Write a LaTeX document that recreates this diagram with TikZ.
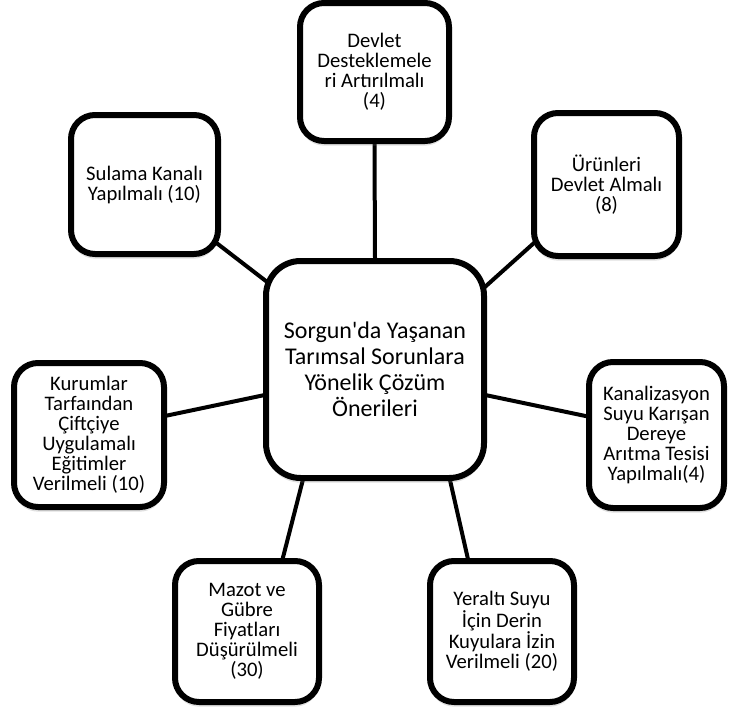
\documentclass[tikz,border=0pt]{standalone}
\usepackage{fontspec}
\setmainfont{Carlito}
\usetikzlibrary{positioning,backgrounds,shadows}

\begin{document}
\begin{tikzpicture}[
   x=0.75pt, y=-0.75pt,
   leaf/.style={draw, line width=4.5pt, rounded corners=18pt, fill=white, align=center,
      font=\fontsize{15.5}{15}\selectfont, inner sep=1pt,
      minimum width=108pt, minimum height=105.75pt,
      drop shadow={opacity=0.25, shadow xshift=0pt, shadow yshift=-3.5pt}},
   hub/.style={leaf, rounded corners=26pt, font=\fontsize{18}{19.5}\selectfont,
      minimum width=163.5pt, minimum height=162.75pt},
   link/.style={line width=3pt, shorten <=-10pt, shorten >=-10pt}
]
\useasboundingbox (0,0) rectangle (729,718);

\node[hub] (hub) at (375,369.5) {Sorgun\textquotesingle da Yaşanan\\Tarımsal Sorunlara\\Yönelik Çözüm\\Önerileri};
\node[leaf, minimum width=111.75pt, minimum height=103.5pt] (dev) at (374.5,72) {Devlet\\Desteklemele\\ri Artırılmalı\\(4)};
\node[leaf, minimum width=110.25pt, minimum height=104.25pt] (sul) at (144.5,184.5) {Sulama Kanalı\\Yapılmalı (10)};
\node[leaf, minimum width=108.75pt, minimum height=107.25pt] (urn) at (606.5,184.5) {Ürünleri\\Devlet Almalı\\(8)};
\node[leaf, minimum width=112.5pt, minimum height=108pt] (kur) at (89,435) {Kurumlar\\Tarfaından\\Çiftçiye\\Uygulamalı\\Eğitimler\\Verilmeli (10)};
\node[leaf, minimum width=101.25pt, minimum height=109.5pt] (kan) at (656.5,435) {Kanalizasyon\\Suyu Karışan\\Dereye\\Arıtma Tesisi\\Yapılmalı(4)};
\node[leaf] (maz) at (247,631.5) {Mazot ve\\Gübre\\Fiyatları\\Düşürülmeli\\(30)};
\node[leaf] (yer) at (502,631.5) {Yeraltı Suyu\\İçin Derin\\Kuyulara İzin\\Verilmeli (20)};

% spokes sit behind the boxes
\begin{scope}[on background layer]
\draw[link] (hub.north) -- (dev.south);
\draw[link] (hub.141) -- (sul.-39.4);
\draw[link] (hub.37.8) -- (urn.-141.6);
\draw[link] (hub.-167.2) -- (kur.14.9);
\draw[link] (hub.-13) -- (kan.165.8);
\draw[link] (hub.-123.4) -- (maz.64.5);
\draw[link] (hub.-56.1) -- (yer.115.5);
\end{scope}
\end{tikzpicture}
\end{document}
